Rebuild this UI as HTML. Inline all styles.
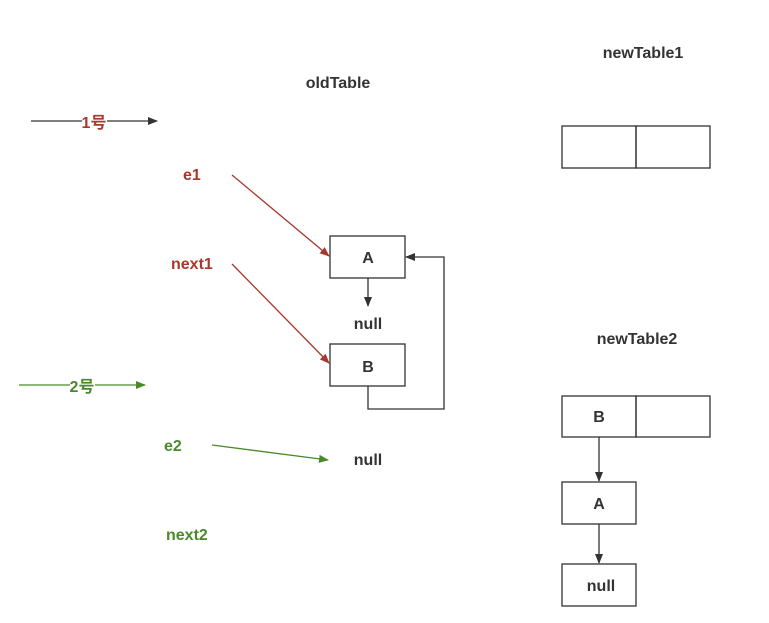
<!DOCTYPE html>
<html><head><meta charset="utf-8"><style>
body{margin:0;background:#fff}
svg text{font-family:"Liberation Sans","Noto Sans CJK SC",sans-serif;font-weight:bold;font-size:16px}
</style></head><body>
<svg width="769" height="618" viewBox="0 0 769 618" xmlns="http://www.w3.org/2000/svg">
<defs>
<marker id="k" markerWidth="10" markerHeight="8" refX="9" refY="4" orient="auto" markerUnits="userSpaceOnUse"><path d="M0,0L10,4L0,8z" fill="#333"/></marker>
<marker id="r" markerWidth="10" markerHeight="8" refX="9" refY="4" orient="auto" markerUnits="userSpaceOnUse"><path d="M0,0L10,4L0,8z" fill="#a8382c"/></marker>
<marker id="g" markerWidth="10" markerHeight="8" refX="9" refY="4" orient="auto" markerUnits="userSpaceOnUse"><path d="M0,0L10,4L0,8z" fill="#4a8a2a"/></marker>
</defs>
<g fill="#333" text-anchor="middle">
<text x="338" y="88">oldTable</text>
<text x="643" y="58">newTable1</text>
<text x="637" y="344">newTable2</text>
<text x="368" y="263">A</text>
<text x="368" y="329">null</text>
<text x="368" y="372">B</text>
<text x="368" y="465">null</text>
<text x="599" y="422">B</text>
<text x="599" y="509">A</text>
<text x="601" y="591">null</text>
</g>
<g fill="#a8382c"><text x="183" y="180">e1</text><text x="171" y="269">next1</text></g>
<g fill="#4a8a2a"><text x="164" y="451">e2</text><text x="166" y="540">next2</text></g>
<line x1="31" y1="121" x2="82" y2="121" stroke="#333" stroke-width="1.3"/>
<line x1="107" y1="121" x2="157" y2="121" stroke="#333" stroke-width="1.3" marker-end="url(#k)"/>
<text x="94" y="128" fill="#a8382c" text-anchor="middle">1号</text>
<line x1="19" y1="385" x2="70" y2="385" stroke="#4a8a2a" stroke-width="1.3"/>
<line x1="95" y1="385" x2="145" y2="385" stroke="#4a8a2a" stroke-width="1.3" marker-end="url(#g)"/>
<text x="82" y="392" fill="#4a8a2a" text-anchor="middle">2号</text>
<g fill="none" stroke="#333" stroke-width="1.3">
<rect x="330" y="236" width="75" height="42"/>
<rect x="330" y="344" width="75" height="42"/>
<rect x="562" y="126" width="74" height="42"/><rect x="636" y="126" width="74" height="42"/>
<rect x="562" y="396" width="74" height="41"/><rect x="636" y="396" width="74" height="41"/>
<rect x="562" y="482" width="74" height="42"/>
<rect x="562" y="564" width="74" height="42"/>
<line x1="368" y1="278" x2="368" y2="306" marker-end="url(#k)"/>
<path d="M368,386V409H444V257H406" marker-end="url(#k)"/>
<line x1="599" y1="437" x2="599" y2="481" marker-end="url(#k)"/>
<line x1="599" y1="524" x2="599" y2="563" marker-end="url(#k)"/>
</g>
<line x1="232" y1="175" x2="329" y2="256" stroke="#a8382c" stroke-width="1.3" marker-end="url(#r)"/>
<line x1="232" y1="264" x2="329" y2="363" stroke="#a8382c" stroke-width="1.3" marker-end="url(#r)"/>
<line x1="212" y1="445" x2="328" y2="460" stroke="#4a8a2a" stroke-width="1.3" marker-end="url(#g)"/>
</svg>
</body></html>
